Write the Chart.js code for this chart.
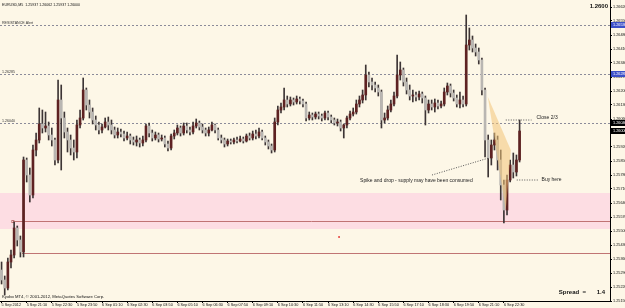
<!DOCTYPE html>
<html>
<head>
<meta charset="utf-8">
<script src="https://cdn.jsdelivr.net/npm/chart.js@4.4.0/dist/chart.umd.min.js"></script>
<style>
html, body { margin: 0; padding: 0; background: #fdf7e7; }
#wrap { width: 625px; height: 308px; position: relative; }
</style>
</head>
<body>
<div id="wrap"><canvas id="chart"></canvas></div>
<script>
// EURUSD M5, one candle per 10 minutes, 5 Sep 19:50 -> 6 Sep 23:20
const opens = [
  1.25305,1.25255,1.25215,1.25345,1.25380,1.25515,1.25455,1.25395,1.25855,1.25780,
  1.25680,1.25905,1.25955,1.26035,1.26015,1.26025,1.25980,1.25955,1.25855,1.26155,
  1.26065,1.25995,1.25955,1.25915,1.25895,1.26030,1.26065,1.26205,1.26130,1.26095,
  1.26055,1.26030,1.26005,1.26020,1.26045,1.26030,1.26005,1.25980,1.25995,1.25985,
  1.25965,1.25975,1.25955,1.25945,1.25955,1.25940,1.25955,1.26025,1.25990,1.25965,
  1.25980,1.25960,1.25965,1.25935,1.25915,1.25975,1.25990,1.26015,1.25990,1.26025,
  1.26005,1.25995,1.26025,1.26040,1.26020,1.26005,1.25990,1.26005,1.26030,1.26005,
  1.25965,1.25955,1.25935,1.25950,1.25945,1.25955,1.25950,1.25960,1.25950,1.25975,
  1.25965,1.25985,1.25975,1.25995,1.25965,1.25945,1.25925,1.25905,1.26045,1.26105,
  1.26120,1.26155,1.26135,1.26155,1.26145,1.26160,1.26150,1.26135,1.26065,1.26080,
  1.26070,1.26085,1.26075,1.26065,1.26090,1.26070,1.26055,1.26040,1.26045,1.26015,
  1.26030,1.26065,1.26085,1.26095,1.26135,1.26155,1.26180,1.26280,1.26245,1.26230,
  1.26215,1.26195,1.26055,1.26065,1.26105,1.26135,1.26175,1.26280,1.26305,1.26245,
  1.26205,1.26175,1.26180,1.26170,1.26185,1.26165,1.26105,1.26135,1.26120,1.26140,
  1.26125,1.26135,1.26195,1.26225,1.26190,1.26165,1.26135,1.26155,1.26135,1.26430,
  1.26455,1.26415,1.26395,1.26355,1.26205,1.25955,1.25865,1.25930,1.25955,1.25855,
  1.25730,1.25605,1.25755,1.25830,1.25795,1.25855
];
const highs = [
  1.25345,1.25275,1.25365,1.25405,1.25545,1.25525,1.25475,1.25870,1.25865,1.25815,
  1.25930,1.25990,1.26115,1.26105,1.26095,1.26045,1.26015,1.25965,1.26255,1.26230,
  1.26095,1.26015,1.25980,1.25955,1.26055,1.26105,1.26265,1.26215,1.26155,1.26115,
  1.26075,1.26045,1.26035,1.26065,1.26070,1.26055,1.26020,1.26015,1.26010,1.26000,
  1.25995,1.25985,1.25970,1.25975,1.25965,1.25975,1.26035,1.26040,1.26005,1.25995,
  1.25990,1.25980,1.25975,1.25950,1.25985,1.26005,1.26030,1.26025,1.26040,1.26040,
  1.26020,1.26045,1.26060,1.26050,1.26035,1.26015,1.26020,1.26045,1.26035,1.26015,
  1.25980,1.25965,1.25960,1.25960,1.25965,1.25970,1.25975,1.25970,1.25985,1.25990,
  1.26000,1.26005,1.26015,1.26005,1.25975,1.25955,1.25935,1.26065,1.26125,1.26140,
  1.26215,1.26175,1.26170,1.26165,1.26175,1.26170,1.26160,1.26145,1.26095,1.26090,
  1.26095,1.26095,1.26085,1.26100,1.26100,1.26080,1.26065,1.26060,1.26055,1.26035,
  1.26075,1.26100,1.26115,1.26155,1.26175,1.26205,1.26330,1.26295,1.26265,1.26245,
  1.26230,1.26205,1.26090,1.26125,1.26155,1.26195,1.26380,1.26345,1.26315,1.26265,
  1.26230,1.26205,1.26195,1.26200,1.26195,1.26175,1.26155,1.26155,1.26160,1.26155,
  1.26150,1.26215,1.26240,1.26235,1.26205,1.26180,1.26195,1.26175,1.26580,1.26515,
  1.26475,1.26435,1.26415,1.26365,1.26215,1.25980,1.25955,1.25990,1.25975,1.25905,
  1.25755,1.25780,1.25855,1.25890,1.25880,1.26055
];
const lows = [
  1.25235,1.25180,1.25205,1.25315,1.25365,1.25425,1.25370,1.25370,1.25745,1.25645,
  1.25665,1.25875,1.25940,1.25990,1.25995,1.25955,1.25925,1.25830,1.25840,1.25805,
  1.25965,1.25895,1.25880,1.25855,1.25865,1.26015,1.26055,1.26105,1.26065,1.26035,
  1.26005,1.25985,1.25990,1.26015,1.26005,1.25985,1.25965,1.25965,1.25970,1.25950,
  1.25955,1.25935,1.25930,1.25925,1.25920,1.25925,1.25945,1.25970,1.25950,1.25955,
  1.25945,1.25950,1.25920,1.25900,1.25905,1.25960,1.25980,1.25975,1.25980,1.25990,
  1.25980,1.25985,1.26015,1.26005,1.25990,1.25975,1.25975,1.26000,1.25990,1.25955,
  1.25940,1.25920,1.25925,1.25935,1.25935,1.25940,1.25945,1.25940,1.25945,1.25955,
  1.25955,1.25960,1.25965,1.25955,1.25930,1.25910,1.25890,1.25895,1.26030,1.26090,
  1.26105,1.26120,1.26125,1.26130,1.26135,1.26135,1.26120,1.26050,1.26055,1.26055,
  1.26060,1.26060,1.26050,1.26055,1.26055,1.26040,1.26030,1.26025,1.26000,1.25965,
  1.26015,1.26055,1.26075,1.26085,1.26120,1.26140,1.26155,1.26220,1.26205,1.26195,
  1.26175,1.26015,1.26040,1.26055,1.26095,1.26125,1.26165,1.26255,1.26225,1.26185,
  1.26155,1.26145,1.26150,1.26155,1.26140,1.26030,1.26090,1.26105,1.26095,1.26110,
  1.26115,1.26125,1.26180,1.26170,1.26150,1.26120,1.26115,1.26120,1.26125,1.26405,
  1.26395,1.26375,1.26335,1.26180,1.25870,1.25770,1.25830,1.25905,1.25805,1.25655,
  1.25540,1.25580,1.25745,1.25765,1.25775,1.25845
];
const closes = [
  1.25255,1.25215,1.25345,1.25380,1.25515,1.25455,1.25395,1.25855,1.25780,1.25680,
  1.25905,1.25955,1.26035,1.26015,1.26025,1.25980,1.25955,1.25855,1.26155,1.26065,
  1.25995,1.25955,1.25915,1.25895,1.26030,1.26065,1.26205,1.26130,1.26095,1.26055,
  1.26030,1.26005,1.26020,1.26045,1.26030,1.26005,1.25980,1.25995,1.25985,1.25965,
  1.25975,1.25955,1.25945,1.25955,1.25940,1.25955,1.26025,1.25990,1.25965,1.25980,
  1.25960,1.25965,1.25935,1.25915,1.25975,1.25990,1.26015,1.25990,1.26025,1.26005,
  1.25995,1.26025,1.26040,1.26020,1.26005,1.25990,1.26005,1.26030,1.26005,1.25965,
  1.25955,1.25935,1.25950,1.25945,1.25955,1.25950,1.25960,1.25950,1.25975,1.25965,
  1.25985,1.25975,1.25995,1.25965,1.25945,1.25925,1.25905,1.26045,1.26105,1.26120,
  1.26155,1.26135,1.26155,1.26145,1.26160,1.26150,1.26135,1.26065,1.26080,1.26070,
  1.26085,1.26075,1.26065,1.26090,1.26070,1.26055,1.26040,1.26045,1.26015,1.26030,
  1.26065,1.26085,1.26095,1.26135,1.26155,1.26180,1.26280,1.26245,1.26230,1.26215,
  1.26195,1.26055,1.26065,1.26105,1.26135,1.26175,1.26280,1.26305,1.26245,1.26205,
  1.26175,1.26180,1.26170,1.26185,1.26165,1.26105,1.26135,1.26120,1.26140,1.26125,
  1.26135,1.26195,1.26225,1.26190,1.26165,1.26135,1.26155,1.26135,1.26430,1.26455,
  1.26415,1.26395,1.26355,1.26205,1.25955,1.25865,1.25930,1.25955,1.25855,1.25730,
  1.25605,1.25755,1.25830,1.25795,1.25855,1.26000
];

const timeLabels = ['5 Sep 2012', '5 Sep 21:10', '5 Sep 22:30', '5 Sep 23:50', '6 Sep 01:10',
  '6 Sep 02:30', '6 Sep 03:50', '6 Sep 05:10', '6 Sep 06:30', '6 Sep 07:50', '6 Sep 09:10',
  '6 Sep 10:30', '6 Sep 11:50', '6 Sep 13:10', '6 Sep 14:30', '6 Sep 15:50', '6 Sep 17:10',
  '6 Sep 18:30', '6 Sep 19:50', '6 Sep 21:10', '6 Sep 22:30'];
const candlesPerLabel = 8;

const priceTicks = [1.26620, 1.26550, 1.26480, 1.26410, 1.26340, 1.26270, 1.26200, 1.26130,
  1.26060, 1.25990, 1.25920, 1.25850, 1.25780, 1.25710, 1.25640, 1.25570, 1.25500, 1.25430,
  1.25360, 1.25290, 1.25220, 1.25150];

// horizontal objects
const dashLevels = [1.26530, 1.26285, 1.26040];
const dashNames = ['RESISTANCE Alert', '1.26285', '1.26040'];
const zoneLevels = [1.25690, 1.25510];
const supportLevels = [1.25550, 1.25390];
const supportStart = [3.6, 6.5];
const bidPrice = 1.26000;

// drawn objects (candle index, price)
const triX = [154.9, 162.2, 160.6];
const triP = [1.26170, 1.25905, 1.25605];
const noteTexts = ['Spike and drop - supply may have been consumed', 'Close 2/3', 'Buy here'];
const noteX = [114.2, 170.4, 172.0];
const noteP = [1.25750, 1.26065, 1.25755];
const pointerFromX = [137.1, 160.6, 164.1];
const pointerFromP = [1.25780, 1.26055, 1.25755];
const pointerToX = [155.2, 168.8, 171.1];
const pointerToP = [1.25865, 1.26055, 1.25755];
const markX = [107.5];
const markP = [1.25470];

const BG = '#fdf7e7';
const BULL = '#5e2222';
const BEAR = '#b9b6b2';
const WICK = '#3d3535';
const FONT = 'Liberation Sans';

const wickData = closes.map((c, i) => ({x: i, y: [lows[i], highs[i]]}));
const bodyData = closes.map((c, i) => ({x: i, y: [opens[i], c]}));
const bodyColors = closes.map((c, i) => c >= opens[i] ? BULL : BEAR);

function seg(ctx, x1, y1, x2, y2, color, pattern) {
  ctx.beginPath();
  ctx.setLineDash(pattern || []);
  ctx.strokeStyle = color;
  ctx.lineWidth = 1;
  ctx.moveTo(x1, y1);
  ctx.lineTo(x2, y2);
  ctx.stroke();
  ctx.setLineDash([]);
}

const mt4 = {
  id: 'mt4',
  beforeDraw(chart) {
    const {ctx, chartArea: a, scales: {x, y}} = chart;
    ctx.save();
    ctx.fillStyle = BG;
    ctx.fillRect(0, 0, chart.width, chart.height);

    const zt = y.getPixelForValue(zoneLevels[0]);
    const zb = y.getPixelForValue(zoneLevels[1]);
    ctx.fillStyle = '#fddde3';
    ctx.fillRect(a.left, zt, a.right - a.left, zb - zt);

    ctx.font = '3.6px "' + FONT + '"';
    ctx.fillStyle = '#333';
    ctx.textBaseline = 'bottom';
    dashLevels.forEach((p, i) => {
      const py = Math.round(y.getPixelForValue(p)) + 0.5;
      seg(ctx, a.left, py, a.right, py, '#8b8b99', [2, 2]);
      ctx.fillText(dashNames[i], a.left + 2, py - 1);
    });

    supportLevels.forEach((p, i) => {
      const py = Math.round(y.getPixelForValue(p)) + 0.5;
      const px = x.getPixelForValue(supportStart[i]);
      seg(ctx, px, py, a.right, py, '#c07474');
      if (i === 0) {
        ctx.strokeStyle = '#c07474';
        ctx.strokeRect(px - 1, py - 1, 2, 2);
      }
    });
    ctx.restore();
  },
  afterDatasetsDraw(chart) {
    const {ctx, scales: {x, y}} = chart;
    ctx.save();
    ctx.beginPath();
    triX.forEach((v, i) => {
      const px = x.getPixelForValue(v), py = y.getPixelForValue(triP[i]);
      if (i === 0) ctx.moveTo(px, py); else ctx.lineTo(px, py);
    });
    ctx.closePath();
    ctx.fillStyle = 'rgba(243, 196, 120, 0.55)';
    ctx.fill();

    pointerFromX.forEach((v, i) => {
      seg(ctx, x.getPixelForValue(v), y.getPixelForValue(pointerFromP[i]),
        x.getPixelForValue(pointerToX[i]), y.getPixelForValue(pointerToP[i]), '#555', [1, 1.5]);
    });
    ctx.font = '5px "' + FONT + '"';
    ctx.fillStyle = '#222';
    ctx.textBaseline = 'middle';
    noteTexts.forEach((t, i) => {
      ctx.fillText(t, x.getPixelForValue(noteX[i]), y.getPixelForValue(noteP[i]));
    });
    ctx.restore();
  },
  afterDraw(chart) {
    const {ctx, chartArea: a, scales: {y}} = chart;
    ctx.save();
    // price boxes on the right axis
    ctx.font = '3.8px "' + FONT + '"';
    ctx.textBaseline = 'middle';
    const boxes = [[dashLevels[0], '#3c50c8'], [dashLevels[1], '#3c50c8'], [dashLevels[2], '#000'], [bidPrice, '#000']];
    boxes.forEach(([p, col]) => {
      const py = y.getPixelForValue(p);
      ctx.fillStyle = col;
      ctx.fillRect(a.right + 1, py - 3, chart.width - a.right, 6);
      ctx.fillStyle = '#fff';
      ctx.fillText(p.toFixed(5), a.right + 3, py);
    });

    ctx.fillStyle = '#111';
    ctx.textBaseline = 'middle';
    ctx.font = '3.6px "' + FONT + '"';
    ctx.fillText('EURUSD,M5  1.25937 1.26062 1.25937 1.26000', 2, 5);
    ctx.font = '4.2px "' + FONT + '"';
    ctx.fillText('Kyobo MT4, \u00a9 2001-2012, MetaQuotes Software Corp.', 2, 297);
    ctx.font = 'bold 6px "' + FONT + '"';
    ctx.textAlign = 'right';
    ctx.fillText('1.2600', a.right - 2, 6);
    ctx.fillText('1.4', a.right - 5, 292);
    ctx.fillText('Spread  =', a.right - 24, 292);
    ctx.restore();
  }
};

new Chart(document.getElementById('chart'), {
  type: 'bar',
  data: {
    datasets: [
      {
        label: 'body', data: bodyData, backgroundColor: bodyColors,
        barThickness: 2, minBarLength: 1, grouped: false, order: 0, borderWidth: 0
      },
      {
        label: 'wick', data: wickData, backgroundColor: WICK,
        barThickness: 1, grouped: false, order: 1, borderWidth: 0
      },
      {
        type: 'scatter', label: 'mark', order: -1,
        data: markX.map((v, i) => ({x: v, y: markP[i]})),
        pointStyle: 'rect', pointRadius: 1.2, pointHoverRadius: 1.2,
        backgroundColor: '#e02020', borderWidth: 0
      }
    ]
  },
  options: {
    responsive: true,
    maintainAspectRatio: false,
    animation: false,
    layout: {padding: 0, autoPadding: false},
    plugins: {legend: {display: false}, tooltip: {enabled: false}},
    scales: {
      x: {
        type: 'linear', min: -0.5, max: 193.8, offset: false, bounds: 'data',
        grid: {drawOnChartArea: false, offset: false, tickLength: 2, color: '#000'},
        border: {color: '#000'},
        ticks: {
          autoSkip: false, maxRotation: 0, align: 'start', padding: 0,
          color: '#111', font: {family: FONT, size: 3.8},
          callback: (v, i) => timeLabels[i]
        },
        afterBuildTicks: s => { s.ticks = timeLabels.map((t, k) => ({value: k * candlesPerLabel})); },
        afterFit: s => { s.height = 7; s.paddingLeft = 0; s.paddingRight = 0; }
      },
      y: {
        type: 'linear', position: 'right', min: 1.25150, max: 1.26655, beginAtZero: false, bounds: 'data',
        grid: {drawOnChartArea: false, tickLength: 2, color: '#000'},
        border: {color: '#000'},
        ticks: {
          padding: 1, color: '#111', font: {family: FONT, size: 3.8},
          callback: v => v.toFixed(5)
        },
        afterBuildTicks: s => { s.ticks = priceTicks.map(v => ({value: v})); },
        afterFit: s => { s.width = 15; s.paddingTop = 0; s.paddingBottom = 0; }
      }
    }
  },
  plugins: [mt4]
});
</script>
</body>
</html>
